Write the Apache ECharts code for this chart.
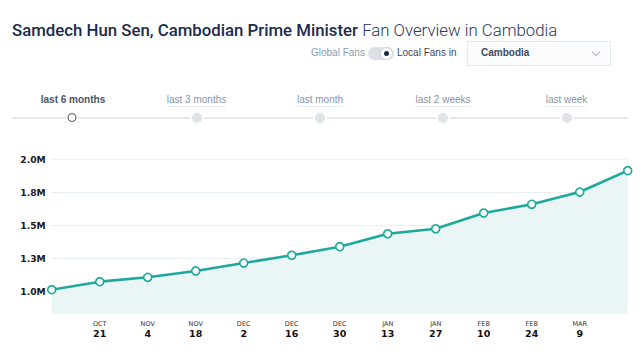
<!DOCTYPE html>
<html>
<head>
<meta charset="utf-8">
<script src="https://cdn.jsdelivr.net/npm/echarts@6/dist/echarts.min.js"></script>
<style>
  html, body { margin:0; padding:0; background:#fff; }
  body { width:642px; height:362px; position:relative; overflow:hidden; font-family:Roboto, "Liberation Sans", sans-serif; }
  #chart { position:absolute; left:0; top:0; width:642px; height:362px; }
  .abs { position:absolute; white-space:nowrap; }
  #title { left:12px; top:18px; font-size:16.8px; line-height:24px; color:#1c2a4e; }
  #title b { font-weight:500; }
  #title span { font-weight:300; color:#28365a; }
  .small { font-family:"Liberation Sans", Arial, sans-serif; font-size:10px; line-height:12px; }
  #global { left:311px; top:47px; color:#8a9bb0; }
  #local { left:397px; top:47px; color:#3a4556; }
  #track { left:368px; top:47px; width:26px; height:13px; border-radius:7px; background:#dbe0e6; }
  #knob { left:380px; top:47px; width:11px; height:11px; border-radius:50%; background:#fff; border:1px solid #cfd6de; }
  #dot { left:384px; top:51px; width:5px; height:5px; border-radius:50%; background:#1c2a4e; }
  #dropdown { left:467px; top:41px; width:142px; height:23px; border:1px solid #e3e8ec; background:#fbfcfd; }
  #country { left:481px; top:47px; color:#3c4a5c; font-weight:bold; }
  #chev { left:593px; top:49px; width:5px; height:5px; border-right:1px solid #aab5c1; border-bottom:1px solid #aab5c1; transform:rotate(45deg); }
  #tline { left:12px; top:117px; width:616px; height:2px; background:#e5e9ee; }
  .tl { top:94px; font-size:10px; line-height:12px; color:#8797a8; transform:translateX(-50%); border-bottom:1px solid #e6ebef; }
  .tl.active { color:#4a5566; font-weight:bold; border-bottom:none; }
  .dotg { width:10px; height:10px; border-radius:50%; background:#dde3e9; top:113px; transform:translateX(-50%); box-shadow:0 0 0 2px #fff; }
  .dota { width:7px; height:7px; border-radius:50%; background:#fff; border:1.5px solid #4a5566; top:113px; transform:translateX(-50%); }
</style>
</head>
<body>
<div id="chart"></div>
<div class="abs" id="title"><b>Samdech Hun Sen, Cambodian Prime Minister</b> <span>Fan Overview in Cambodia</span></div>
<div class="abs small" id="global">Global Fans</div>
<div class="abs" id="track"></div>
<div class="abs" id="knob"></div>
<div class="abs" id="dot"></div>
<div class="abs small" id="local">Local Fans in</div>
<div class="abs" id="dropdown"></div>
<div class="abs small" id="country">Cambodia</div>
<div class="abs" id="chev"></div>
<div class="abs" id="tline"></div>
<div id="timeline"></div>
<script>
// ---- data ----
const categories = ['Oct 7','Oct 21','Nov 4','Nov 18','Dec 2','Dec 16','Dec 30','Jan 13','Jan 27','Feb 10','Feb 24','Mar 9','Mar 23'];
const monthLabels = ['', 'OCT','NOV','NOV','DEC','DEC','DEC','JAN','JAN','FEB','FEB','MAR',''];
const dayLabels   = ['', '21','4','18','2','16','30','13','27','10','24','9',''];
const fans = [1012000, 1073000, 1106000, 1154000, 1214000, 1273000, 1338000, 1436000, 1474000, 1593000, 1659000, 1752000, 1914000];
const yTickLabels = ['', '1.0M', '1.3M', '1.5M', '1.8M', '2.0M'];
const periods = ['last 6 months', 'last 3 months', 'last month', 'last 2 weeks', 'last week'];
const periodX = [73, 196.5, 320, 443, 566.5];

// timeline
const tl = document.getElementById('timeline');
periods.forEach((p, i) => {
  const l = document.createElement('div');
  l.className = 'abs tl small' + (i === 0 ? ' active' : '');
  l.style.left = periodX[i] + 'px';
  l.textContent = p;
  tl.appendChild(l);
  const d = document.createElement('div');
  d.className = 'abs ' + (i === 0 ? 'dota' : 'dotg');
  d.style.left = (i === 0 ? 71.7 : periodX[i]) + 'px';
  tl.appendChild(d);
});

const chart = echarts.init(document.getElementById('chart'), null, { renderer: 'svg' });
chart.setOption({
  animation: false,
  grid: { left: 51.7, right: 14.3, top: 159.3, bottom: 37.7 },
  xAxis: {
    type: 'category',
    data: categories,
    boundaryGap: false,
    axisLine: { show: false },
    axisTick: { show: false },
    splitLine: { show: false },
    axisLabel: {
      interval: 0,
      margin: -5,
      formatter: (v, i) => monthLabels[i] ? '{m|' + monthLabels[i] + '}\n{d|' + dayLabels[i] + '}' : '',
      rich: {
        m: { fontFamily: 'DejaVu Sans', fontSize: 6.5, color: '#333', lineHeight: 9, align: 'center' },
        d: { fontFamily: 'DejaVu Sans', fontSize: 9.5, fontWeight: 'bold', color: '#111', lineHeight: 10, align: 'center' }
      }
    }
  },
  yAxis: {
    type: 'value',
    min: 750000,
    max: 2000000,
    interval: 250000,
    axisLine: { show: false },
    axisTick: { show: false },
    splitLine: { show: true, lineStyle: { color: ['rgba(0,0,0,0)', '#e9eef1', '#e9eef1', '#e9eef1', '#e9eef1', '#eef2f4'], width: 1 } },
    axisLabel: {
      margin: 6,
      fontFamily: 'DejaVu Sans',
      fontSize: 9.2,
      fontWeight: 'bold',
      color: '#1a1a1a',
      formatter: (v, i) => yTickLabels[i] || ''
    }
  },
  series: [{
    type: 'line',
    data: fans,
    symbol: 'circle',
    symbolSize: 8,
    showAllSymbol: true,
    lineStyle: { color: '#1ca99c', width: 2.6 },
    itemStyle: { color: '#ffffff', borderColor: '#1ca99c', borderWidth: 1.6 },
    areaStyle: { color: '#eaf6f6', opacity: 1, origin: 830000 }
  }]
});
</script>
</body>
</html>
